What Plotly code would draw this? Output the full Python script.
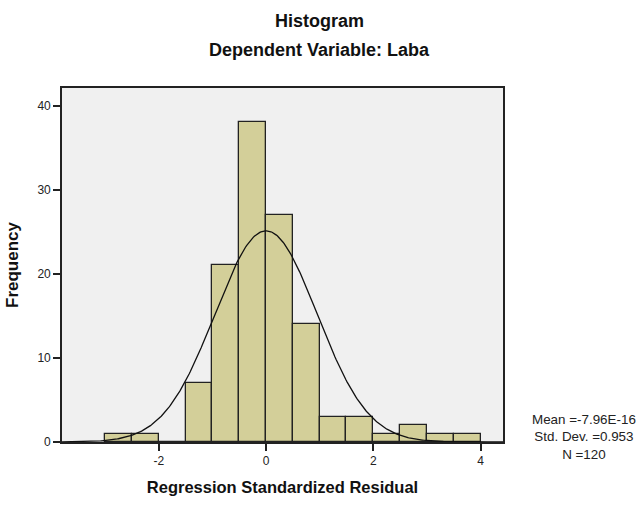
import numpy as np
import plotly.graph_objects as go

# Data
bin_start = -3.0
bin_width = 0.5
counts = [1, 1, 0, 7, 21, 38, 27, 14, 3, 3, 1, 2, 1, 1]
mean_val = -7.96e-16
std_val = 0.953
n_val = 120
x_ticks = [-2, 0, 2, 4]
y_ticks = [0, 10, 20, 30, 40]

centers = [bin_start + bin_width * (i + 0.5) for i in range(len(counts))]

x_range = [-3.805, 4.419]
y_range = [0, 42.1]

xs = np.linspace(x_range[0], x_range[1], 400)
ys = n_val * bin_width / (std_val * np.sqrt(2 * np.pi)) * np.exp(-0.5 * ((xs - mean_val) / std_val) ** 2)

FONT = "Arial, Liberation Sans, sans-serif"

fig = go.Figure()
fig.add_trace(go.Bar(
    x=centers, y=counts, width=bin_width,
    marker=dict(color="#d3cf99", line=dict(color="#222222", width=1.3)),
    hoverinfo="skip",
))
fig.add_trace(go.Scatter(
    x=xs, y=ys, mode="lines",
    line=dict(color="#111111", width=1.3),
    hoverinfo="skip",
))

fig.update_layout(
    width=638, height=506,
    margin=dict(l=61, r=135, t=88, b=59),
    paper_bgcolor="white",
    plot_bgcolor="#f0f0f0",
    showlegend=False,
    font=dict(family=FONT, color="#222222"),
    bargap=0,
)
fig.update_xaxes(
    range=x_range, tickvals=x_ticks, ticktext=[str(t) for t in x_ticks],
    showgrid=False, zeroline=False,
    showline=True, linewidth=2, linecolor="#222222", mirror=True,
    ticks="outside", ticklen=7, tickwidth=1.5, tickcolor="#222222",
    tickfont=dict(size=12, family=FONT, color="#222222"),
    title=dict(text="<b>Regression Standardized Residual</b>",
               font=dict(size=16.5, family=FONT, color="#111111"), standoff=14),
)
fig.update_yaxes(
    range=y_range, tickvals=y_ticks, ticktext=[str(t) for t in y_ticks],
    showgrid=False, zeroline=False,
    showline=True, linewidth=1.6, linecolor="#222222", mirror=True,
    ticks="outside", ticklen=7, tickwidth=1.5, tickcolor="#222222",
    tickfont=dict(size=12, family=FONT, color="#222222"),
    title=dict(text="<b>Frequency</b>",
               font=dict(size=17, family=FONT, color="#111111"), standoff=14),
)

plot_h = 447 - 88
def py(px):
    return (447 - px) / plot_h

fig.add_annotation(text="<b>Histogram</b>", xref="paper", yref="paper",
                   x=(319 - 61) / 442, y=py(20), showarrow=False,
                   xanchor="center", yanchor="middle",
                   font=dict(size=18, family=FONT, color="#111111"))
fig.add_annotation(text="<b>Dependent Variable: Laba</b>", xref="paper", yref="paper",
                   x=(319 - 61) / 442, y=py(49), showarrow=False,
                   xanchor="center", yanchor="middle",
                   font=dict(size=18, family=FONT, color="#111111"))
fig.add_annotation(
    text=f"Mean =-7.96E-16<br>Std. Dev. ={std_val}<br>N ={n_val}",
    xref="paper", yref="paper", x=(584 - 61) / 442, y=py(442),
    showarrow=False, xanchor="center", yanchor="middle", align="center",
    font=dict(size=13.4, family=FONT, color="#222222"))

fig.write_html("out.html")
